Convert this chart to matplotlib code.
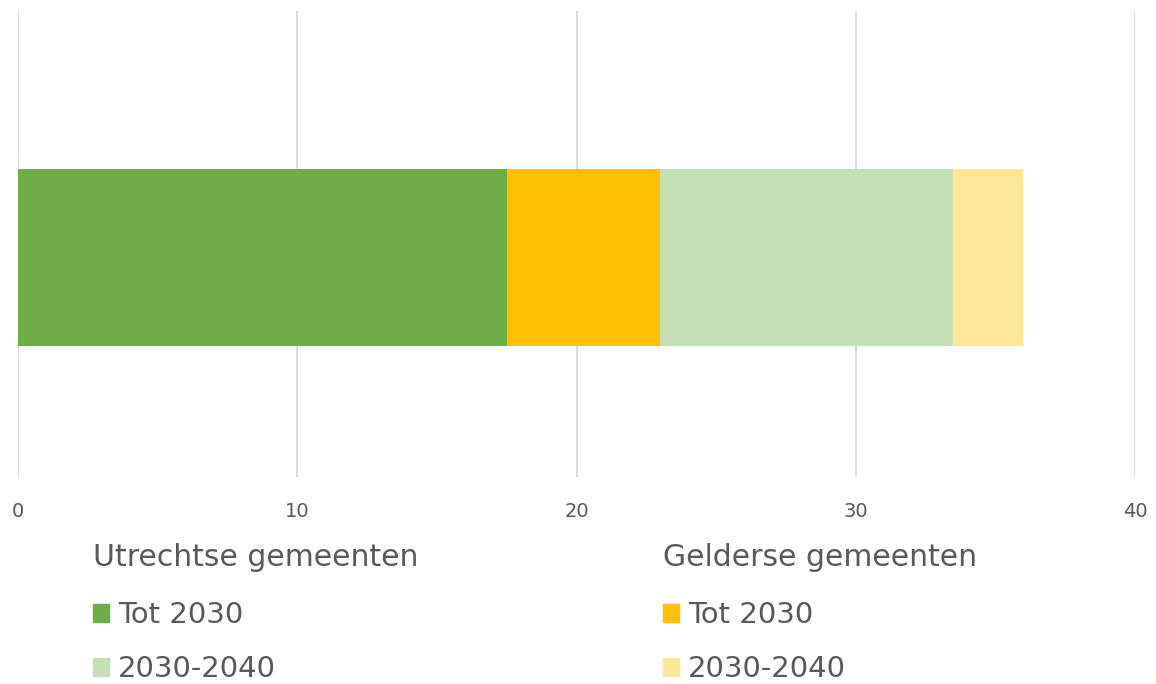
import matplotlib.pyplot as plt
from matplotlib.patches import Patch

plt.rcParams['font.family'] = 'sans-serif'
plt.rcParams['font.sans-serif'] = ['DejaVu Sans']

# waarden (aantal gemeenten)
series = ['Utrechtse gemeenten - Tot 2030', 'Gelderse gemeenten - Tot 2030',
          'Utrechtse gemeenten - 2030-2040', 'Gelderse gemeenten - 2030-2040']
values = [17.5, 5.5, 10.5, 2.5]
colors = ['#70AD47', '#FFC000', '#C5E0B4', '#FFE699']

groups = ['Utrechtse gemeenten', 'Gelderse gemeenten']
labels = ['Tot 2030', '2030-2040']
ticks = [0, 10, 20, 30, 40]

txt = '#595959'

fig = plt.figure(figsize=(11.56, 6.84), dpi=100)
ax = fig.add_axes([18 / 1156, 1 - 477 / 684, (1135 - 18) / 1156, 466 / 684])

left = 0
for v, c in zip(values, colors):
    ax.barh(0, v, left=left, height=1, color=c, zorder=3)
    left += v

ax.set_xlim(0, 40)
ax.set_ylim(-1.24, 1.393)
ax.set_xticks(ticks)
ax.set_yticks([])
ax.grid(axis='x', color='#D9D9D9', linewidth=1.3, zorder=0)
for s in ax.spines.values():
    s.set_visible(False)
ax.tick_params(axis='x', length=0, colors=txt, labelsize=14, pad=18)

# legenda: twee kolommen met kop
h1 = [Patch(color=colors[0]), Patch(color=colors[2])]
h2 = [Patch(color=colors[1]), Patch(color=colors[3])]
for hs, g, x in [(h1, groups[0], 93 / 1156), (h2, groups[1], 663 / 1156)]:
    leg = fig.legend(hs, labels, title=g, loc='upper left',
                     bbox_to_anchor=(x, 1 - 543 / 684), frameon=False,
                     title_fontsize=21.5, alignment='left',
                     handlelength=0.55, handleheight=0.55, handletextpad=0.3,
                     labelspacing=0.9, borderaxespad=0, borderpad=0,
                     labelcolor=txt, prop={'family': 'DejaVu Sans', 'size': 21})
    leg.get_title().set_color(txt)
    leg.get_title().set_family('DejaVu Sans')
    leg._legend_box.sep = 21

fig.savefig('out.png', dpi=100)
